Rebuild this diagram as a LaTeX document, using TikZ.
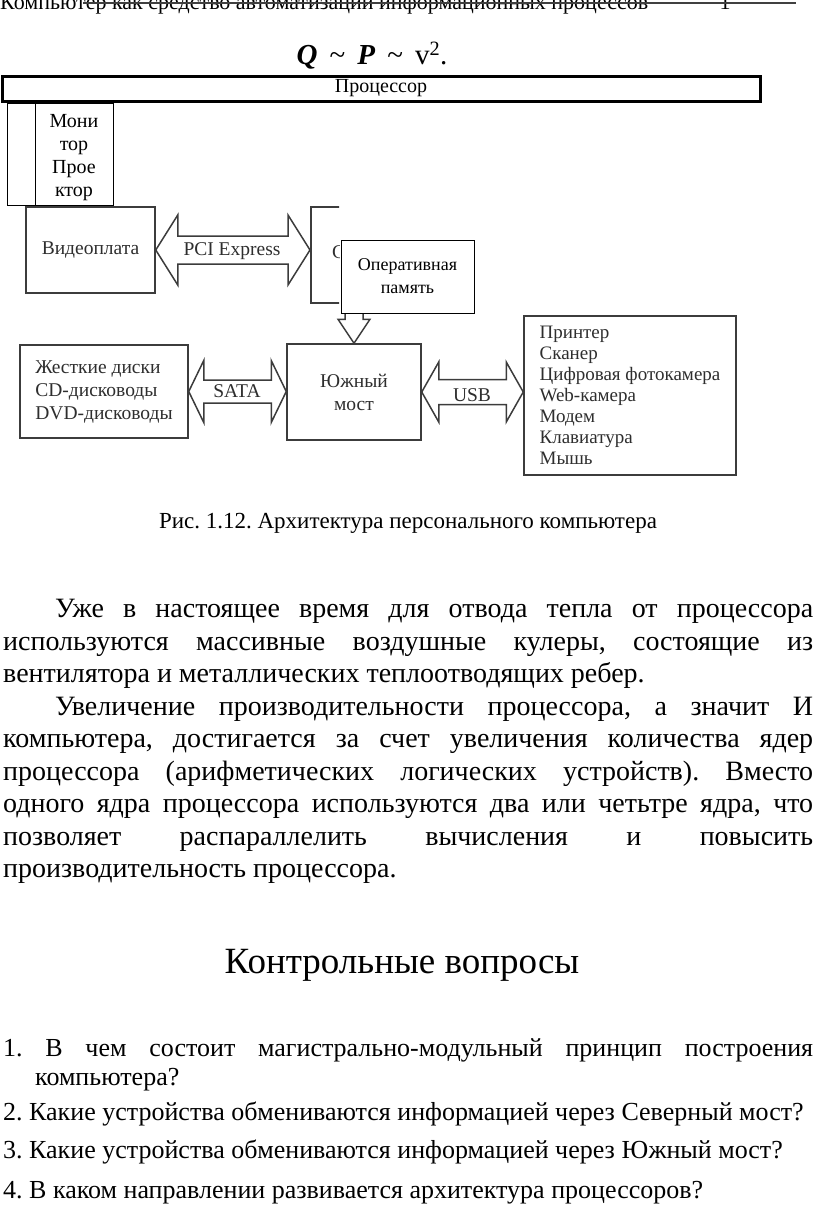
\documentclass[tikz,border=0pt]{standalone}
\usepackage{fontspec}
\setmainfont{Liberation Serif}
\usetikzlibrary{calc}
\frenchspacing

\definecolor{scanline}{HTML}{3C3C3C}
\definecolor{scanink}{HTML}{2E2E2E}

% double block arrow: left tip, right tip, head length, head half, shaft half
\newcommand{\dblarrow}[5]{%
  \draw[scanarrow] (#1) -- ++(#3,-#4) -- ++(0,#4-#5) -- ($(#2)+(-#3,-#5)$)
    -- ++(0,#5-#4) -- (#2) -- ++(-#3,#4) -- ++(0,#5-#4)
    -- ($(#1)+(#3,#5)$) -- ++(0,#4-#5) -- cycle;}

\begin{document}
\begin{tikzpicture}[x=1pt, y=-1pt,
  thinbox/.style={draw=black, fill=white, line width=0.9pt, inner sep=0pt, align=center, font=\fontsize{19}{23}\selectfont},
  cpubox/.style={draw=black, line width=3pt, inner sep=0pt, font=\fontsize{20}{24}\selectfont},
  scanbox/.style={draw=scanline, fill=white, line width=1.5pt, inner sep=0pt, text=scanink, font=\fontsize{19.5}{23}\selectfont},
  scanlabel/.style={text=scanink, inner sep=0pt, font=\fontsize{19.5}{23}\selectfont},
  scanarrow/.style={draw=scanline, line width=1.5pt, fill=white},
  bodytext/.style={anchor=north west, inner sep=0pt, text width=810pt, align=justify, font=\fontsize{28}{32.5}\selectfont},
  question/.style={anchor=base west, inner sep=0pt, font=\fontsize{26}{30}\selectfont}
]
  \useasboundingbox (0,0) rectangle (816,1210);
  \clip (0,0) rectangle (816,1210);

  % Running head
  \node[anchor=base west, inner sep=0pt, font=\fontsize{22}{26}\selectfont] (header) at (0,9) {Компьютер как средство автоматизации информационных процессов};
  \node[anchor=base, inner sep=0pt, font=\fontsize{22}{26}\selectfont] (pagenum) at (725,9) {1};
  \coordinate (ruleL) at (83,3);
  \coordinate (ruleR) at (796,3);
  \draw[black!75, line width=2pt] (ruleL) -- (ruleR);

  % Formula
  \node[font=\fontsize{29}{34}\selectfont] (formula) at (372,56) {\textbf{\textit{Q}}\, \textasciitilde{}\, \textbf{\textit{P}}\, \textasciitilde{}\, v\textsuperscript{2}.};

  % Processor and monitor
  \node[cpubox, minimum width=758pt, minimum height=25pt] (cpu) at (381,88.5) {Процессор};
  \node[thinbox, minimum width=106pt, minimum height=102pt] (monframe) at (60,154) {};
  \node[thinbox, minimum width=78pt, minimum height=102pt] (monitor) at (74,154) {};
  \node[align=center, inner sep=0pt, font=\fontsize{20}{23}\selectfont] (montext) at (74,158) {Мони\\тор\\Прое\\ктор};

  % Upper row
  \node[scanbox, minimum width=129pt, minimum height=86pt] (video) at (90.5,250) {Видеоплата};
  \begin{scope}
    \clip (300,195) rectangle (339,310);
    \node[scanbox, anchor=west, minimum width=134pt, minimum height=96pt] (north) at (310,255) {};
    \node[scanlabel, anchor=west] (northtext) at (332,252) {С};
  \end{scope}
  \dblarrow{video.east}{video.east -| north.west}{22}{35}{14}
  \node[scanlabel] (pci) at (232,251) {PCI Express};

  % Lower row
  \node[scanbox, minimum width=168pt, minimum height=93pt, align=left] (disks) at (104,391.5) {Жесткие диски\\CD-дисководы\\DVD-дисководы};
  \node[scanbox, minimum width=134pt, minimum height=96pt, align=center] (south) at (354,392) {Южный\\мост};
  \node[scanbox, minimum width=212pt, minimum height=159pt, align=left, font=\fontsize{19}{21}\selectfont] (periph) at (630,395.5) {Принтер\\Сканер\\Цифровая фотокамера\\Web-камера\\Модем\\Клавиатура\\Мышь};
  \dblarrow{disks.east}{disks.east -| south.west}{15}{31}{11.5}
  \node[scanlabel] (sata) at (237,391) {SATA};
  \dblarrow{south.east}{south.east -| periph.west}{17}{30}{12.5}
  \node[scanlabel] (usb) at (472,395) {USB};
  \draw[scanarrow] (south.north) -- ++(-16,-24) -- ++(7,0) -- ++(0,-30) -- ++(18,0) -- ++(0,30) -- ++(7,0) -- cycle;

  % Memory on top
  \node[thinbox, minimum width=133pt, minimum height=73pt, font=\fontsize{18}{23}\selectfont] (ram) at (407.5,276.5) {Оперативная\\память};

  % Caption
  \node[font=\fontsize{23}{27}\selectfont] (caption) at (408,523) {Рис. 1.12. Архитектура персонального компьютера};

  % Body text
  \node[bodytext] (body) at (3,599) {\hspace*{52pt}Уже в настоящее время для отвода тепла от процессора\linebreak используются массивные воздушные кулеры, состоящие из\linebreak вентилятора и металлических теплоотводящих ребер.\par
  \hspace*{52pt}Увеличение производительности процессора, а значит И\linebreak компьютера, достигается за счет увеличения количества ядер\linebreak процессора (арифметических логических устройств). Вместо\linebreak одного ядра процессора используются два или четьтре ядра, что\linebreak позволяет распараллелить вычисления и повысить\linebreak производительность процессора.};

  % Questions
  \node[font=\fontsize{37}{44}\selectfont] (heading) at (402,965) {Контрольные вопросы};
  \node[bodytext, font=\fontsize{26}{29}\selectfont] (q1) at (3,1038) {1. В чем состоит магистрально-модульный принцип построения\linebreak \hspace*{32pt}компьютера?};
  \node[question] (q2) at (3,1120) {2. Какие устройства обмениваются информацией через Северный мост?};
  \node[question] (q3) at (3,1158) {3. Какие устройства обмениваются информацией через Южный мост?};
  \node[question] (q4) at (3,1198) {4. В каком направлении развивается архитектура процессоров?};
\end{tikzpicture}
\end{document}
